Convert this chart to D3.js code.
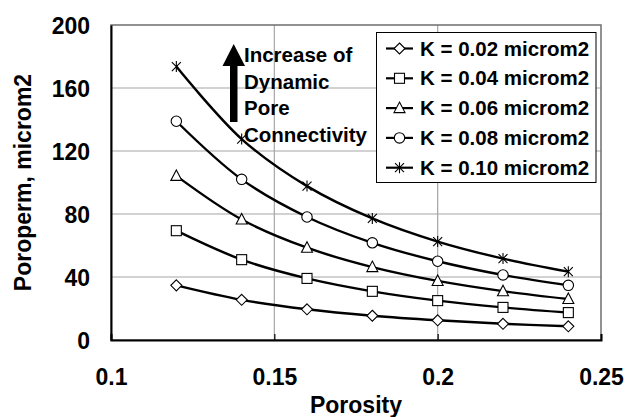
<!DOCTYPE html>
<html>
<head>
<meta charset="utf-8">
<script src="https://cdn.jsdelivr.net/npm/d3@7"></script>
<style>
body{margin:0;background:#fff;}
text{font-family:"Liberation Sans",Arial,sans-serif;font-weight:bold;fill:#000;}
</style>
</head>
<body>
<div id="chart"></div>
<script>
let chart_width = 625;
let chart_height = 417;

let porosity = [0.12,0.14,0.16,0.18,0.20,0.22,0.24];
let k_labels = ['K = 0.02 microm2','K = 0.04 microm2','K = 0.06 microm2','K = 0.08 microm2','K = 0.10 microm2'];
let k002 = [34.7,25.5,19.5,15.4,12.5,10.3,8.7];
let k004 = [69.4,51.0,39.1,30.9,25.0,20.7,17.4];
let k006 = [104.2,76.5,58.6,46.3,37.5,31.0,26.0];
let k008 = [138.9,102.0,78.1,61.7,50.0,41.3,34.7];
let k010 = [173.6,127.6,97.7,77.2,62.5,51.7,43.4];
let series_values = [k002,k004,k006,k008,k010];
let markers = ['diamond','square','triangle','circle','star'];
let x_ticks = [0.1,0.15,0.2,0.25];
let y_ticks = [0,40,80,120,160,200];
let note_lines = ['Increase of','Dynamic','Pore','Connectivity'];

const margin = {left:111, top:25, right:24, bottom:77};
const xScale = d3.scaleLinear().domain([0.1,0.25]).range([margin.left, chart_width-margin.right]);
const yScale = d3.scaleLinear().domain([0,200]).range([chart_height-margin.bottom, margin.top]);

let svg = d3.select('#chart')
    .append('svg')
    .attr('width',chart_width)
    .attr('height',chart_height);

// grid
svg.append('g')
    .selectAll('line')
    .data(y_ticks.filter(d=>d>0 && d<200))
    .enter()
    .append('line')
    .attr('x1',xScale(0.1))
    .attr('x2',xScale(0.25))
    .attr('y1',d=>yScale(d))
    .attr('y2',d=>yScale(d))
    .attr('stroke','#a6a6a6')
    .attr('stroke-width',1.2);

svg.append('g')
    .selectAll('line')
    .data(x_ticks.filter(d=>d>0.1 && d<0.25))
    .enter()
    .append('line')
    .attr('x1',d=>xScale(d))
    .attr('x2',d=>xScale(d))
    .attr('y1',yScale(0))
    .attr('y2',yScale(200))
    .attr('stroke','#a6a6a6')
    .attr('stroke-width',1.2);

// plot border
svg.append('rect')
    .attr('x',xScale(0.1))
    .attr('y',yScale(200))
    .attr('width',xScale(0.25)-xScale(0.1))
    .attr('height',yScale(0)-yScale(200))
    .attr('fill','none')
    .attr('stroke','#6e6e6e')
    .attr('stroke-width',1.5);

// axes
let xAxis = svg.append('g')
    .attr('transform','translate(0,'+yScale(0)+')')
    .call(d3.axisBottom(xScale).tickValues(x_ticks).tickSize(-6).tickFormat(d3.format('')));
xAxis.select('.domain').attr('stroke','#000').attr('stroke-width',2);
xAxis.selectAll('.tick line').attr('stroke','#000').attr('stroke-width',1.2);
xAxis.selectAll('.tick text')
    .attr('y',45)
    .attr('dy',0)
    .style('font-size','23px')
    .style('font-family','"Liberation Sans",Arial,sans-serif');

let yAxis = svg.append('g')
    .attr('transform','translate('+xScale(0.1)+',0)')
    .call(d3.axisLeft(yScale).tickValues(y_ticks).tickSize(0));
yAxis.select('.domain').attr('stroke','#000').attr('stroke-width',2);
yAxis.selectAll('.tick text')
    .attr('x',-21)
    .attr('dy','0.36em')
    .style('font-size','23px')
    .style('font-family','"Liberation Sans",Arial,sans-serif');

// axis titles
svg.append('text')
    .attr('x',(xScale(0.1)+xScale(0.25))/2)
    .attr('y',413)
    .attr('text-anchor','middle')
    .style('font-size','23px')
    .text('Porosity');

svg.append('text')
    .attr('transform','translate(31,'+((yScale(0)+yScale(200))/2)+') rotate(-90)')
    .attr('text-anchor','middle')
    .style('font-size','23px')
    .text('Poroperm, microm2');

// marker drawing
function drawMarker(g, type, x, y){
    if(type==='diamond'){
        g.append('path')
            .attr('d','M'+x+','+(y-5.5)+'L'+(x+5.5)+','+y+'L'+x+','+(y+5.5)+'L'+(x-5.5)+','+y+'Z')
            .attr('fill','#fff').attr('stroke','#000').attr('stroke-width',1.1);
    }
    else if(type==='square'){
        g.append('rect')
            .attr('x',x-5).attr('y',y-5).attr('width',10).attr('height',10)
            .attr('fill','#fff').attr('stroke','#000').attr('stroke-width',1.1);
    }
    else if(type==='triangle'){
        g.append('path')
            .attr('d','M'+x+','+(y-6)+'L'+(x+5.5)+','+(y+4.5)+'L'+(x-5.5)+','+(y+4.5)+'Z')
            .attr('fill','#fff').attr('stroke','#000').attr('stroke-width',1.1);
    }
    else if(type==='circle'){
        g.append('circle')
            .attr('cx',x).attr('cy',y).attr('r',5.2)
            .attr('fill','#fff').attr('stroke','#000').attr('stroke-width',1.1);
    }
    else{
        g.append('path')
            .attr('d','M'+(x-4.5)+','+(y-4.5)+'L'+(x+4.5)+','+(y+4.5)+'M'+(x+4.5)+','+(y-4.5)+'L'+(x-4.5)+','+(y+4.5)+'M'+x+','+(y-5.5)+'L'+x+','+(y+5.5))
            .attr('fill','none').attr('stroke','#000').attr('stroke-width',1.1);
    }
}

// series
let line = d3.line()
    .x(d=>xScale(d.x))
    .y(d=>yScale(d.y))
    .curve(d3.curveCatmullRom.alpha(0.5));

series_values.forEach(function(values, i){
    let data = porosity.map((p,j)=>({'x':p,'y':values[j]}));
    let g = svg.append('g');
    g.append('path')
        .datum(data)
        .attr('d',line)
        .attr('fill','none')
        .attr('stroke','#000')
        .attr('stroke-width',2.4);
    data.forEach(d=>drawMarker(g, markers[i], xScale(d.x), yScale(d.y)));
});

// annotation arrow
let arrow = svg.append('g');
arrow.append('rect')
    .attr('x',230).attr('y',62).attr('width',7.5).attr('height',60)
    .attr('fill','#000');
arrow.append('path')
    .attr('d','M233.7,44L245,66L222.5,66Z')
    .attr('fill','#000');

svg.append('g')
    .selectAll('text')
    .data(note_lines)
    .enter()
    .append('text')
    .attr('x',244)
    .attr('y',(d,i)=>62+i*26.7)
    .style('font-size','20.5px')
    .text(d=>d);

// legend
let legend = svg.append('g');
legend.append('rect')
    .attr('x',376.5).attr('y',32.5).attr('width',219.5).attr('height',150)
    .attr('fill','#fff')
    .attr('stroke','#000')
    .attr('stroke-width',1);

k_labels.forEach(function(label, i){
    let cy = 48.5+i*29.8;
    legend.append('line')
        .attr('x1',386).attr('x2',413)
        .attr('y1',cy).attr('y2',cy)
        .attr('stroke','#000').attr('stroke-width',2.2);
    drawMarker(legend, markers[i], 399.5, cy);
    legend.append('text')
        .attr('x',420)
        .attr('y',cy+7)
        .style('font-size','20.5px')
        .text(label);
});
</script>
</body>
</html>
